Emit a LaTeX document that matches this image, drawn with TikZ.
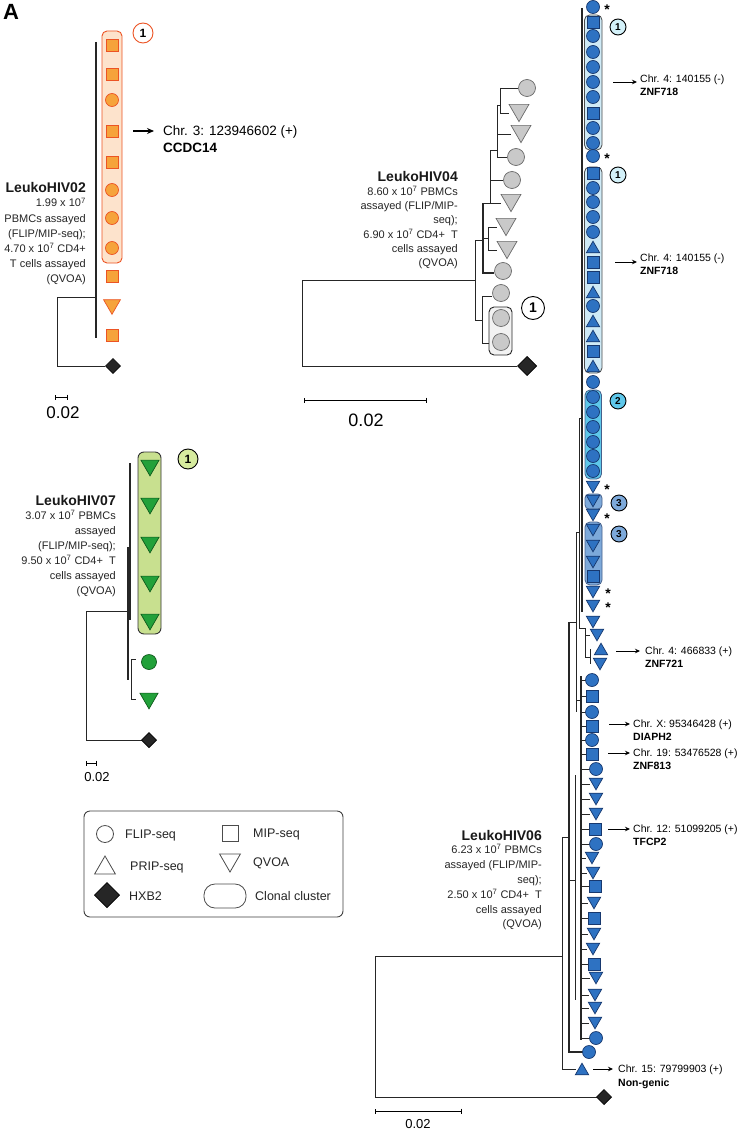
\documentclass[tikz,border=0pt]{standalone}
\usepackage{fontspec}
\setmainfont{Liberation Sans}
\usetikzlibrary{shapes.geometric,arrows.meta}
\definecolor{orF}{HTML}{F6A33B}
\definecolor{orD}{HTML}{EC5424}
\definecolor{orBox}{HTML}{FDE3CC}
\definecolor{grF}{HTML}{C9C9C9}
\definecolor{grD}{HTML}{6A6A6A}
\definecolor{bF}{HTML}{2E72C2}
\definecolor{bD}{HTML}{17386E}
\definecolor{bBox1}{HTML}{CFEAF6}
\definecolor{bLab1}{HTML}{D3F1F9}
\definecolor{bBox2}{HTML}{5EC7EA}
\definecolor{bBox3}{HTML}{7DA9DA}
\definecolor{gnF}{HTML}{22A13A}
\definecolor{gnD}{HTML}{0F5A1C}
\definecolor{gnBox}{HTML}{C8E08F}
\definecolor{gnLab}{HTML}{D6EB9E}
\definecolor{hx}{HTML}{262626}
\begin{document}
\begin{tikzpicture}[x=1pt,y=-1pt,
  symb/.style={inner sep=0pt,outer sep=0pt,line width=0.7pt},
  ci/.style={symb,circle,minimum size=#1}, ci/.default=13,
  sqr/.style={symb,rectangle,minimum size=#1}, sqr/.default=12,
  tu/.style={symb,regular polygon,regular polygon sides=3,minimum size=#1,yshift=-#1/8}, tu/.default=15.5,
  td/.style={symb,regular polygon,regular polygon sides=3,shape border rotate=180,minimum size=#1,yshift=#1/8}, td/.default=15.5,
  dm/.style={symb,diamond,minimum size=#1}, dm/.default=15,
  bsty/.style={fill=bF,draw=bD},
  bc/.style={ci,bsty}, bs/.style={sqr,bsty}, bu/.style={tu,bsty}, bd/.style={td,bsty},
  osty/.style={fill=orF,draw=orD},
  gsty/.style={fill=grF,draw=grD},
  gc/.style={ci=17,gsty}, gt/.style={td=23,gsty},
  gnsty/.style={fill=gnF,draw=gnD},
  hxb/.style={dm=#1,fill=hx,draw=black}, hxb/.default=15,
  tr/.style={line width=0.8pt,draw=black!85},
  lab/.style={circle,draw,line width=0.9pt,inner sep=0pt,minimum size=#1},
  ttl/.style={font=\fontsize{14}{16}\selectfont\bfseries,inner sep=0pt,text=black!90},
  sub/.style={font=\fontsize{11}{13}\selectfont,inner sep=0pt,text=black!85},
  chr/.style={font=\fontsize{10.5}{12}\selectfont,inner sep=0pt},
  chb/.style={font=\fontsize{10.5}{12}\selectfont\bfseries,inner sep=0pt},
  lgt/.style={font=\fontsize{12.5}{14}\selectfont,inner sep=0pt,text=black!85},
  arr/.style={-{Stealth[length=5pt,width=4.5pt]},line width=0.9pt},
  scl/.style={{Bar[width=5pt]}-{Bar[width=5pt]},line width=0.9pt},
  ast/.style={font=\fontsize{14}{15}\selectfont\bfseries,inner sep=0pt}
]
\useasboundingbox (0,0) rectangle (748,1134);
\fill[white] (0,0) rectangle (748,1134);

\node[font=\fontsize{22}{24}\selectfont\bfseries,inner sep=0pt] (pA) at (11,12) {A};

%% ================= LeukoHIV02 =================
\draw[tr,line width=1.2pt] (96,42) -- (96,338);
\draw[tr] (57,297) -- (96,297);
\draw[tr] (57,297) -- (57,366) -- (105,366);
\draw[orD,fill=orBox,line width=0.9pt,rounded corners=5] (102,31) rectangle (122,263);
\foreach \s/\y [count=\i] in {sqr/45,sqr/74,ci/100,sqr/131,sqr/162,ci/190,ci/218,ci/248,sqr/276}
  \node[\s,osty] (o\i) at (112,\y) {};
\node[td=19.5,osty] (o10) at (112,307) {};
\node[sqr,osty] (o11) at (112,335) {};
\node[hxb] (o12) at (113,366) {};
\node[lab=20,draw=orD,fill=white,font=\fontsize{12}{13}\selectfont\bfseries] (ol1) at (143,33) {1};
\coordinate (oa1) at (133,131);
\coordinate (oa2) at (154,131);
\draw[-{Stealth[length=7pt,width=6pt]},line width=1.2pt] (oa1) -- (oa2);
\node[font=\fontsize{13.5}{15}\selectfont,inner sep=0pt,anchor=base west] (ot1) at (163,136) {Chr. 3: 123946602 (+)};
\node[font=\fontsize{13.5}{15}\selectfont\bfseries,inner sep=0pt,anchor=base west] (ot2) at (163,153) {CCDC14};
\node[ttl,anchor=base east] (n02) at (86,193) {LeukoHIV02};
\foreach \t [count=\i] in {{1.99 x 10\textsuperscript{7}},{PBMCs assayed},{(FLIP/MIP-seq);},{4.70 x 10\textsuperscript{7} CD4+},{T cells assayed},{(QVOA)}}
  \node[sub,anchor=base east] (n02l\i) at (86,{188+15*\i+4}) {\t};
\coordinate (s02a) at (55,397);
\coordinate (s02b) at (68,397);
\draw[scl] (s02a) -- (s02b);
\node[font=\fontsize{17}{18}\selectfont,inner sep=0pt] (s02t) at (63,413) {0.02};

%% ================= LeukoHIV04 =================
\draw[tr] (302,280) -- (475,280);
\draw[tr] (302,280) -- (302,366) -- (517,366);
\draw[tr] (475,240) -- (475,320);
\draw[tr] (475,320) -- (482,320);
\draw[tr] (482,296) -- (482,343);
\draw[tr] (482,296) -- (492,296);
\draw[tr] (482,343) -- (489,343);
\draw[tr] (475,240) -- (483,240);
\draw[tr,line width=1.1pt] (483,203) -- (483,273) -- (494,273);
\draw[tr] (483,238) -- (488,238);
\draw[tr] (488,227) -- (488,250);
\draw[tr] (488,227) -- (497,227);
\draw[tr] (488,250) -- (497,250);
\draw[tr] (483,203) -- (501,203);
\draw[tr] (490,203) -- (490,150);
\draw[tr] (490,180) -- (503,180);
\draw[tr] (490,150) -- (497,150);
\draw[tr] (497,105) -- (497,157);
\draw[tr] (497,157) -- (507,157);
\draw[tr] (497,134) -- (511,134);
\draw[tr] (497,105) -- (500,105);
\draw[tr] (500,88) -- (500,113);
\draw[tr] (500,88) -- (518,88);
\draw[tr] (500,113) -- (509,113);
\draw[black!85,fill=black!5,line width=0.9pt,rounded corners=5] (489,307) rectangle (512,355);
\foreach \s/\x/\y [count=\i] in {gc/527/88,gt/519/113,gt/521/134,gc/516/157,gc/512/180,gt/511/203,gt/506/227,gt/507/250,gc/503/271,gc/501/293,gc/501/318,gc/501/342}
  \node[\s] (g\i) at (\x,\y) {};
\node[hxb=19] (g13) at (527,366) {};
\node[lab=23,fill=white,font=\fontsize{14}{15}\selectfont\bfseries] (gl1) at (533,308) {1};
\node[ttl,anchor=base east] (n04) at (458,182) {LeukoHIV04};
\foreach \t [count=\i] in {{8.60 x 10\textsuperscript{7} PBMCs},{assayed (FLIP/MIP-},{seq);},{6.90 x 10\textsuperscript{7} CD4+\ \ T},{cells assayed},{(QVOA)}}
  \node[sub,anchor=base east] (n04l\i) at (458,{177+14.3*\i+4}) {\t};
\coordinate (s04a) at (304,400);
\coordinate (s04b) at (427,400);
\draw[scl] (s04a) -- (s04b);
\node[font=\fontsize{18}{19}\selectfont,inner sep=0pt] (s04t) at (366,420) {0.02};

%% ================= LeukoHIV07 =================
\draw[tr,line width=1.1pt] (130,463) -- (130,620);
\draw[tr,line width=1.4pt] (128,547) -- (128,680);
\draw[tr] (131,659) -- (131,699);
\draw[tr] (131,659) -- (136,659);
\draw[tr] (131,699) -- (136,699);
\draw[tr] (86,611) -- (128,611);
\draw[tr] (86,611) -- (86,740) -- (142,740);
\draw[black!80,fill=gnBox,line width=0.9pt,rounded corners=6] (138,452) rectangle (161,634);
\foreach \y [count=\i] in {468,506,545,584,622}
  \node[td=21,gnsty] (gn\i) at (150,\y) {};
\node[ci=15,gnsty] (gn6) at (149,662) {};
\node[td=21,gnsty] (gn7) at (149,701) {};
\node[hxb] (gn8) at (149,740) {};
\node[lab=20,fill=gnLab,font=\fontsize{12}{13}\selectfont\bfseries] (gnl1) at (188,459) {1};
\node[ttl,anchor=base east] (n07) at (116,505) {LeukoHIV07};
\foreach \t [count=\i] in {{3.07 x 10\textsuperscript{7} PBMCs},{assayed},{(FLIP/MIP-seq);},{9.50 x 10\textsuperscript{7} CD4+\ \ T},{cells assayed},{(QVOA)}}
  \node[sub,anchor=base east] (n07l\i) at (116,{500+15*\i+4}) {\t};
\coordinate (s07a) at (86,763);
\coordinate (s07b) at (97,763);
\draw[scl] (s07a) -- (s07b);
\node[font=\fontsize{13}{14}\selectfont,inner sep=0pt] (s07t) at (97,777) {0.02};

%% ================= Legend =================
\draw[black!75,line width=0.9pt,rounded corners=6] (84,811) rectangle (343,917);
\node[ci=17,draw=black!70,line width=0.8pt] (lg1) at (105,834) {};
\node[lgt,anchor=base west] (lt1) at (125,838.5) {FLIP-seq};
\node[sqr=16,draw=black!70,line width=0.8pt] (lg2) at (230,833) {};
\node[lgt,anchor=base west] (lt2) at (253,837.5) {MIP-seq};
\node[tu=24,draw=black!70,line width=0.8pt] (lg3) at (105,865) {};
\node[lgt,anchor=base west] (lt3) at (130,870.5) {PRIP-seq};
\node[td=24,draw=black!70,line width=0.8pt] (lg4) at (230,863) {};
\node[lgt,anchor=base west] (lt4) at (253,866.5) {QVOA};
\node[hxb=25] (lg5) at (107,895) {};
\node[lgt,anchor=base west] (lt5) at (129,900.5) {HXB2};
\node[draw=black!70,line width=0.8pt,rounded corners=11,minimum width=42,minimum height=24,inner sep=0pt] (lg6) at (225,896) {};
\node[lgt,anchor=base west] (lt6) at (255,900.5) {Clonal cluster};

%% ================= LeukoHIV06 =================
\draw[tr] (375,956) -- (562,956);
\draw[tr] (375,956) -- (375,1097) -- (597,1097);
\draw[tr] (562,837) -- (562,1069) -- (576,1069);
\draw[tr] (562,837) -- (569,837);
\draw[tr,line width=1.1pt] (569,622) -- (569,1052) -- (583,1052);
\draw[tr] (569,622) -- (576,622);
\draw[tr] (576,532) -- (576,712);
\draw[tr] (576,532) -- (579,532);
\draw[tr] (579,418) -- (579,628);
\draw[tr] (579,418) -- (582,418);
\draw[tr,line width=1.3pt] (582,8) -- (582,612);
\draw[tr] (579,628) -- (585,628);
\draw[tr] (585,628) -- (585,657);
\draw[tr] (585,635) -- (590,635);
\draw[tr] (585,657) -- (590,657);
\draw[tr] (590,649) -- (590,664);
\draw[tr] (576,700) -- (581,700);
\draw[tr,line width=1.1pt] (581,676) -- (581,1040);
\draw[tr] (569,880) -- (575,880);
\draw[tr] (575,775) -- (575,1000);
\foreach \y/\x in {680/592,696/592,712/592,726/592,740/592,754/592,769/596,784/596,799/596,814/596,829/595,844/596,858/592,873/593,886/595,903/594,918/594,934/594,949/593,964/594,978/596,995/595,1008/595,1023/595,1038/596}
  \draw[tr,line width=0.6pt] (581,\y) -- ({\x-6},\y);
% clusters
\draw[black!70,fill=bBox1,line width=0.8pt,rounded corners=5] (584.5,15) rectangle (602,150);
\draw[black!70,fill=bBox1,line width=0.8pt,rounded corners=5] (584.5,167) rectangle (602,373);
\draw[bD!80,fill=bBox2,line width=0.8pt,rounded corners=5] (585,390) rectangle (601.5,479);
\draw[bD!80,fill=bBox3,line width=0.8pt,rounded corners=4] (585,494) rectangle (602,509);
\draw[bD!80,fill=bBox3,line width=0.8pt,rounded corners=5] (585,522) rectangle (602,585);
\foreach \s/\x/\y [count=\i] in {bc/593/7,
  bs/593/22,bc/593/36,bc/593/52,bc/593/67,bc/593/82,bc/593/97,bs/593/113,bc/593/128,bc/593/143,
  bc/593/156,
  bs/593/173,bc/593/188,bc/593/202,bc/593/217,bc/593/232,bu/593/247,bs/593/262,bs/593/277,bu/593/292,bc/593/306,bu/593/321,bu/593/336,bs/593/351,bu/593/366,
  bc/593/382,
  bc/593/397,bc/593/412,bc/593/427,bc/593/442,bc/593/456,bc/593/471,
  bd/593/487,bd/593/501,bd/593/515,
  bd/593/530,bd/593/546,bd/593/562,bs/593/576,
  bd/593/592,bd/593/606,
  bd/593/622,bd/597/635,bu/601/649,bd/600/664,
  bc/592/680,bs/592/696,bc/592/712,bs/592/726,bc/592/740,bs/592/754,bc/596/769,bd/596/784,bd/596/799,bd/596/814,bs/595/829,bc/596/844,
  bd/592/858,bd/593/873,bs/595/886,bd/594/903,bs/594/918,bd/594/934,bd/593/949,bs/594/964,bd/596/978,bd/595/995,bd/595/1008,bd/595/1023,bc/596/1038,
  bc/589/1052,bu/582/1069}
  \node[\s] (b\i) at (\x,\y) {};
\node[hxb] (bhx) at (604,1097) {};
% stars
\foreach \x/\y [count=\i] in {607/7,607/156,607/487,607/516,608/591,608/605}
  \node[ast] (st\i) at (\x,{\y+2.5}) {*};
% cluster labels
\node[lab=16,fill=bLab1,font=\fontsize{10}{11}\selectfont\bfseries] (bl1) at (618,27) {1};
\node[lab=16,fill=bLab1,font=\fontsize{10}{11}\selectfont\bfseries] (bl2) at (618,175) {1};
\node[lab=16,fill=bBox2,font=\fontsize{10}{11}\selectfont\bfseries] (bl3) at (618,401) {2};
\node[lab=16,fill=bBox3,font=\fontsize{10}{11}\selectfont\bfseries] (bl4) at (619,503) {3};
\node[lab=16,fill=bBox3,font=\fontsize{10}{11}\selectfont\bfseries] (bl5) at (619,534) {3};
% integration sites
\foreach \xa/\xb/\ya/\xt/\yb/\yc/\ta/\tb [count=\i] in {
  613/637/82/640/79/92/{Chr. 4: 140155 (-)}/{ZNF718},
  615/637/262/640/258/271/{Chr. 4: 140155 (-)}/{ZNF718},
  616/640/651/645/651/664/{Chr. 4: 466833 (+)}/{ZNF721},
  609/630/724/633/724/737/{Chr. X: 95346428 (+)}/{DIAPH2},
  608/630/753/633/753/766/{Chr. 19: 53476528 (+)}/{ZNF813},
  608/630/829/633/829/842/{Chr. 12: 51099205 (+)}/{TFCP2},
  593/613/1069/618/1069/1083/{Chr. 15: 79799903 (+)}/{Non-genic}}
{
  \coordinate (as\i) at (\xa,\ya);
  \coordinate (ae\i) at (\xb,\ya);
  \draw[arr] (as\i) -- (ae\i);
  \node[chr,anchor=base west] (ct\i) at (\xt,{\yb+3.8}) {\ta};
  \node[chb,anchor=base west] (cb\i) at (\xt,{\yc+3.8}) {\tb};
}
\node[ttl,anchor=base east] (n06) at (542,840) {LeukoHIV06};
\foreach \t [count=\i] in {{6.23 x 10\textsuperscript{7} PBMCs},{assayed (FLIP/MIP-},{seq);},{2.50 x 10\textsuperscript{7} CD4+\ \ T},{cells assayed},{(QVOA)}}
  \node[sub,anchor=base east] (n06l\i) at (542,{835+14.8*\i+4}) {\t};
\coordinate (s06a) at (375,1111);
\coordinate (s06b) at (462,1111);
\draw[scl] (s06a) -- (s06b);
\node[font=\fontsize{13}{14}\selectfont,inner sep=0pt] (s06t) at (418,1124) {0.02};
\end{tikzpicture}
\end{document}
